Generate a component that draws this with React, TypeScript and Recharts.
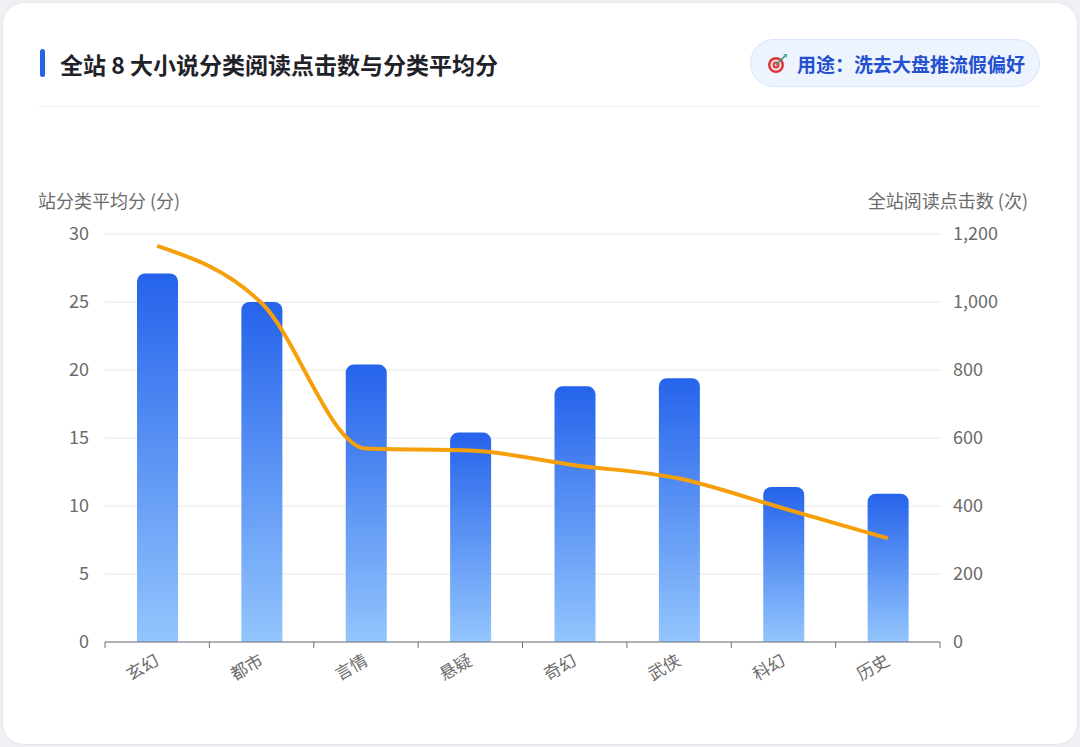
import { ComposedChart, Bar, Line, XAxis, YAxis, CartesianGrid } from "recharts";

const categories = ["玄幻", "都市", "言情", "悬疑", "奇幻", "武侠", "科幻", "历史"];
const avgScore = [27.1, 25.0, 20.4, 15.4, 18.8, 19.4, 11.4, 10.9];
const clicks = [1165, 997, 569, 563, 520, 481, 393, 305];
const scoreTicks = [0, 5, 10, 15, 20, 25, 30];
const clickTicks = [0, 200, 400, 600, 800, 1000, 1200];

const data = categories.map((name, i) => ({
  name,
  score: avgScore[i],
  clicks: clicks[i],
}));

const FONT = '"Noto Sans CJK SC", "Noto Sans", sans-serif';
const AXIS_COLOR = "#6e7079";
const TEXT_COLOR = "#6b6b6b";

function CategoryTick(props: any) {
  const { x, y, payload, index } = props;
  const half = payload.offset || 52;
  const axisY = y - 8;
  return (
    <g>
      <line x1={x - half} y1={axisY} x2={x - half} y2={axisY + 6} stroke={AXIS_COLOR} />
      {index === categories.length - 1 && (
        <line x1={x + half} y1={axisY} x2={x + half} y2={axisY + 6} stroke={AXIS_COLOR} />
      )}
      <text
        x={x + 3}
        y={y + 14}
        textAnchor="end"
        fontSize={17}
        fill={TEXT_COLOR}
        fontFamily={FONT}
        transform={`rotate(-30, ${x + 3}, ${y + 14})`}
      >
        {payload.value}
      </text>
    </g>
  );
}

function TargetIcon() {
  return (
    <svg width="22" height="22" viewBox="0 0 22 22" style={{ display: "block" }}>
      <circle cx="9" cy="13" r="8" fill="#d63a3a" />
      <circle cx="9" cy="13" r="5.5" fill="#fbe3e3" />
      <circle cx="9" cy="13" r="3.5" fill="#d63a3a" />
      <circle cx="9" cy="13" r="1.4" fill="#fbe3e3" />
      <line x1="9" y1="13" x2="18" y2="4" stroke="#3b8f8a" strokeWidth="1.6" />
      <path d="M16 2 L20 2 L20 6 Z" fill="#3fb3a8" />
    </svg>
  );
}

export default function App() {
  return (
    <div
      style={{
        position: "fixed",
        left: 0,
        top: 0,
        width: 1080,
        height: 747,
        background: "#eef0f3",
        fontFamily: FONT,
        overflow: "hidden",
      }}
    >
      <div
        style={{
          position: "absolute",
          left: 2,
          top: 2,
          width: 1074,
          height: 741,
          background: "#ffffff",
          border: "1px solid #e3e6ea",
          borderRadius: 22,
        }}
      />
      {/* title */}
      <div
        style={{
          position: "absolute",
          left: 40,
          top: 49,
          width: 5,
          height: 28,
          borderRadius: 3,
          background: "#2563eb",
        }}
      />
      <div
        style={{
          position: "absolute",
          left: 60,
          top: 47,
          fontSize: 23,
          fontWeight: 700,
          color: "#1f2329",
          lineHeight: "34px",
          whiteSpace: "nowrap",
        }}
      >
        全站 8 大小说分类阅读点击数与分类平均分
      </div>
      <div
        style={{
          position: "absolute",
          left: 750,
          top: 39,
          width: 290,
          height: 48,
          boxSizing: "border-box",
          borderRadius: 24,
          background: "#eef4fe",
          border: "1px solid #d9e5fb",
          display: "flex",
          alignItems: "center",
          paddingLeft: 16,
          gap: 8,
        }}
      >
        <TargetIcon />
        <span style={{ fontSize: 19, fontWeight: 700, color: "#2450d0", whiteSpace: "nowrap" }}>
          用途：洗去大盘推流假偏好
        </span>
      </div>
      <div
        style={{
          position: "absolute",
          left: 38,
          top: 106,
          width: 1002,
          height: 1,
          background: "#eceef1",
        }}
      />
      {/* axis titles */}
      <div
        style={{
          position: "absolute",
          left: 38,
          top: 187,
          fontSize: 18,
          color: TEXT_COLOR,
          lineHeight: "26px",
          whiteSpace: "nowrap",
        }}
      >
        站分类平均分 (分)
      </div>
      <div
        style={{
          position: "absolute",
          right: 1080 - 1028,
          top: 187,
          fontSize: 18,
          color: TEXT_COLOR,
          lineHeight: "26px",
          whiteSpace: "nowrap",
        }}
      >
        全站阅读点击数 (次)
      </div>
      <div style={{ position: "absolute", left: 0, top: 0 }}>
        <ComposedChart
          width={1080}
          height={747}
          data={data}
          margin={{ top: 234, right: 60, left: 45, bottom: 45 }}
        >
          <defs>
            <linearGradient id="barGrad" x1="0" y1="0" x2="0" y2="1">
              <stop offset="0%" stopColor="#2563eb" />
              <stop offset="100%" stopColor="#93c5fd" />
            </linearGradient>
          </defs>
          <CartesianGrid yAxisId="left" vertical={false} stroke="#e6e8ec" />
          <XAxis
            dataKey="name"
            height={60}
            axisLine={{ stroke: AXIS_COLOR }}
            tickLine={false}
            tickSize={6}
            tickMargin={2}
            interval={0}
            tick={<CategoryTick />}
          />
          <YAxis
            yAxisId="left"
            width={60}
            domain={[0, 30]}
            ticks={scoreTicks}
            axisLine={false}
            tickLine={false}
            tickMargin={10}
            tick={{ fontSize: 18, fill: TEXT_COLOR, fontFamily: FONT }}
          />
          <YAxis
            yAxisId="right"
            orientation="right"
            width={80}
            domain={[0, 1200]}
            ticks={clickTicks}
            axisLine={false}
            tickLine={false}
            tickMargin={7}
            tickFormatter={(v: number) => v.toLocaleString("en-US")}
            tick={{ fontSize: 18, fill: TEXT_COLOR, fontFamily: FONT }}
          />
          <Bar
            yAxisId="left"
            dataKey="score"
            barSize={41}
            fill="url(#barGrad)"
            radius={[8, 8, 0, 0]}
            isAnimationActive={false}
          />
          <Line
            yAxisId="right"
            type="monotone"
            dataKey="clicks"
            stroke="#f5a00b"
            strokeWidth={4}
            dot={false}
            activeDot={false}
            isAnimationActive={false}
          />
        </ComposedChart>
      </div>
    </div>
  );
}
